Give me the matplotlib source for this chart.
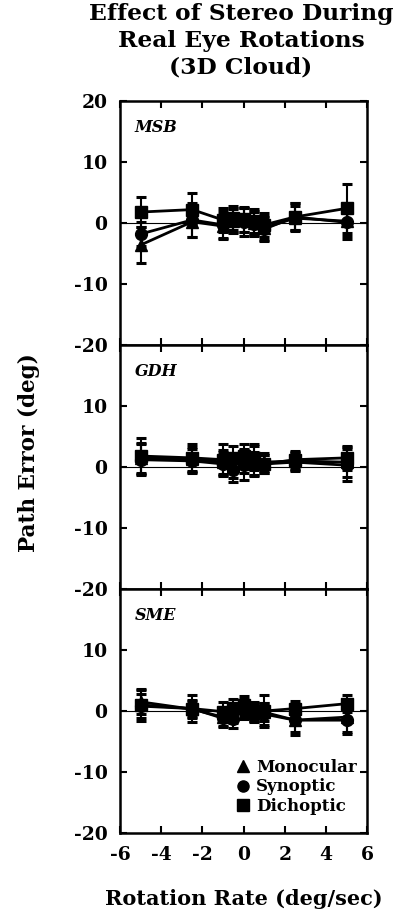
import matplotlib
matplotlib.use("Agg")
import matplotlib.pyplot as plt
from matplotlib.lines import Line2D

plt.rcParams['font.family'] = ['DejaVu Serif']
plt.rcParams['font.weight'] = 'bold'
plt.rcParams['axes.labelweight'] = 'bold'
plt.rcParams['axes.unicode_minus'] = False

rate = [-5, -2.5, -1, -0.5, 0, 0.5, 1, 2.5, 5]
subjects = ['MSB', 'GDH', 'SME']
labels = ['Monocular', 'Synoptic', 'Dichoptic']

# path error (deg) per subject, per condition
mono = {
    'MSB': [-3.6, 0.2, -0.5, 0.3, 0.5, 0.0, -0.8, 0.8, 0.3],
    'GDH': [1.5, 1.3, 0.8, 0.2, 1.0, 0.5, 0.8, 1.0, 0.8],
    'SME': [1.5, 0.3, -1.0, -0.5, 0.5, -0.3, -0.2, -1.5, -1.0],
}
syn = {
    'MSB': [-1.8, 0.5, -0.3, 0.5, 0.2, -0.2, -1.0, 1.0, 0.1],
    'GDH': [1.2, 1.0, 0.5, -0.5, 0.3, 1.2, 0.5, 0.8, 0.3],
    'SME': [0.8, 0.4, -1.2, -1.3, 0.2, -0.2, -0.5, -1.5, -1.5],
}
dich = {
    'MSB': [1.8, 2.2, 0.5, 0.8, 0.6, 0.3, -0.3, 1.0, 2.4],
    'GDH': [1.8, 1.5, 1.2, 1.5, 1.8, 1.5, 0.5, 1.2, 1.5],
    'SME': [1.0, 0.4, -0.1, 0.5, 1.0, -0.1, 0.0, 0.4, 1.2],
}
mono_err = {
    'MSB': [2.9, 2.5, 2.0, 2.0, 2.0, 2.0, 2.0, 2.0, 2.5],
    'GDH': [2.5, 2.0, 2.0, 2.0, 2.0, 2.0, 1.5, 1.5, 2.5],
    'SME': [2.0, 1.5, 1.5, 1.5, 1.5, 1.5, 1.5, 2.0, 2.5],
}
syn_err = {
    'MSB': [2.0, 2.8, 2.3, 2.0, 2.3, 2.0, 2.0, 2.2, 2.7],
    'GDH': [2.5, 2.0, 2.0, 2.0, 2.5, 2.5, 1.5, 1.5, 2.6],
    'SME': [2.0, 1.3, 1.5, 1.5, 1.5, 1.5, 1.8, 2.4, 2.2],
}
dich_err = {
    'MSB': [2.5, 2.7, 2.0, 2.0, 2.0, 2.0, 2.0, 2.3, 4.0],
    'GDH': [3.0, 2.3, 2.5, 2.0, 2.0, 2.0, 1.5, 1.5, 2.0],
    'SME': [2.6, 2.2, 1.5, 1.5, 1.5, 1.5, 2.6, 1.2, 1.4],
}

fig, axes = plt.subplots(3, 1, figsize=(4.07, 9.15), dpi=100, sharex=True)
fig.subplots_adjust(left=0.295, right=0.902, top=0.8896, bottom=0.0896, hspace=0)

series = [(mono, mono_err, '^'), (syn, syn_err, 'o'), (dich, dich_err, 's')]

for ax, subj in zip(axes, subjects):
    ax.axhline(0, color='k', lw=0.8, zorder=1)
    for (vals, errs, mk), lab in zip(series, labels):
        ax.errorbar(rate, vals[subj], yerr=errs[subj], color='k', marker=mk,
                    markersize=8.5, lw=2, elinewidth=1.5, capsize=3.5, capthick=2.2,
                    zorder=3)
    ax.set_xlim(-6, 6)
    ax.set_ylim(-20, 20)
    ax.set_yticks([-20, -10, 0, 10, 20])
    ax.set_xticks([-6, -4, -2, 0, 2, 4, 6])
    ax.tick_params(direction='in', top=True, right=True, length=5, width=1.5,
                   labelsize=13.5)
    ax.tick_params(axis='y', pad=9)
    ax.tick_params(axis='x', pad=9)
    for sp in ax.spines.values():
        sp.set_linewidth(1.8)
    ax.text(0.06, 0.875, subj, transform=ax.transAxes, fontsize=11.5,
            fontstyle='italic', fontweight='bold')

for ax in axes[1:]:
    ax.set_yticks([-20, -10, 0, 10])

handles = [Line2D([], [], color='k', marker=m, ls='none', markersize=8)
           for m in ['^', 'o', 's']]
axes[2].legend(handles, labels, loc='lower right', bbox_to_anchor=(0.992, 0.04),
               frameon=False, fontsize=12, handlelength=0.6, handletextpad=0.5,
               labelspacing=0.15, borderaxespad=0.3, borderpad=0.2)

axes[2].set_xlabel('Rotation Rate (deg/sec)', fontsize=15, labelpad=18,
                   fontweight='bold')
fig.text(0.072, 0.505, 'Path Error (deg)', rotation=90, fontsize=15.5,
         ha='center', va='center', fontweight='bold')
fig.text(0.592, 0.997, 'Effect of Stereo During\nReal Eye Rotations\n(3D Cloud)',
         ha='center', va='top', fontsize=16.8, linespacing=1.28, fontweight='bold')

fig.savefig('out.png', dpi=100)
